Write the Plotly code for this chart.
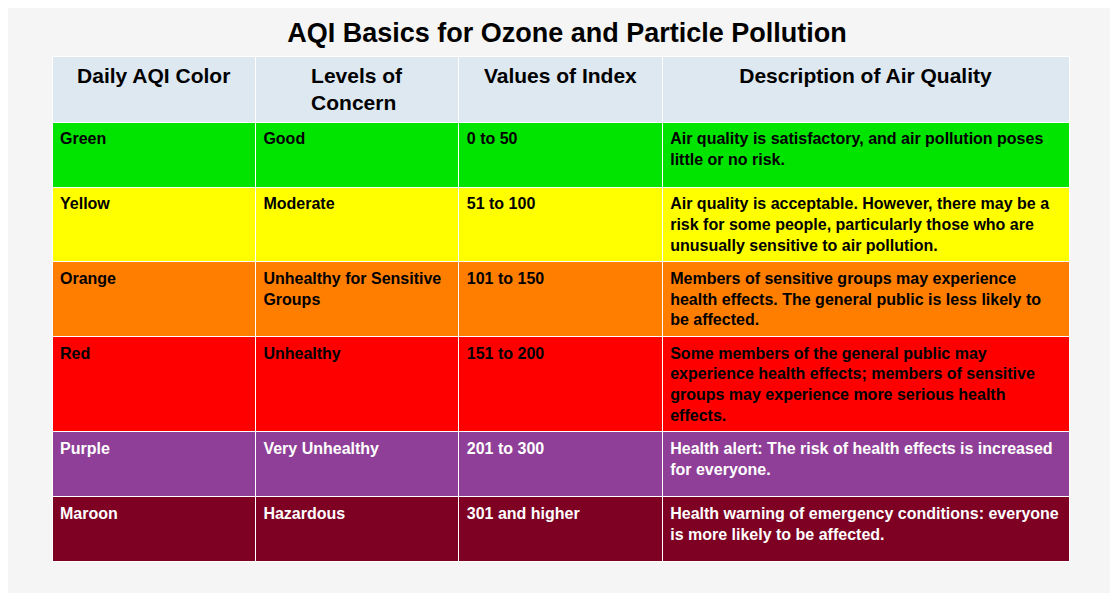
import plotly.graph_objects as go

headers = ["Daily AQI Color", "Levels of Concern", "Values of Index", "Description of Air Quality"]
colors = ["Green", "Yellow", "Orange", "Red", "Purple", "Maroon"]
levels = ["Good", "Moderate", "Unhealthy for Sensitive<br>Groups", "Unhealthy", "Very Unhealthy", "Hazardous"]
values = ["0 to 50", "51 to 100", "101 to 150", "151 to 200", "201 to 300", "301 and higher"]
descs = [
    "Air quality is satisfactory, and air pollution poses<br>little or no risk.",
    "Air quality is acceptable. However, there may be a<br>risk for some people, particularly those who are<br>unusually sensitive to air pollution.",
    "Members of sensitive groups may experience<br>health effects. The general public is less likely to<br>be affected.",
    "Some members of the general public may<br>experience health effects; members of sensitive<br>groups may experience more serious health<br>effects.",
    "Health alert: The risk of health effects is increased<br>for everyone.",
    "Health warning of emergency conditions: everyone<br>is more likely to be affected.",
]
fills = ["#00e400", "#ffff00", "#ff7e00", "#ff0000", "#8f3f97", "#7e0023"]
txtcol = ["black", "black", "black", "black", "white", "white"]

fig = go.Figure(go.Table(
    columnwidth=[1, 1, 1, 2],
    header=dict(values=["<b>%s</b>" % h for h in headers], fill_color="#dde8f0",
                line_color="white", align="center", height=38,
                font=dict(family="Liberation Sans, Arial", size=21, color="black")),
    cells=dict(values=[["<b>%s</b>" % v for v in col] for col in [colors, levels, values, descs]],
               fill_color=[fills] * 4, line_color="white", align="left", height=65,
               font=dict(family="Liberation Sans, Arial", size=16, color=[txtcol] * 4)),
))
fig.update_layout(
    width=1118, height=593, paper_bgcolor="#f5f5f5",
    margin=dict(l=44, r=57, t=48, b=10),
    title=dict(text="<b>AQI Basics for Ozone and Particle Pollution</b>", x=0.5, xanchor="center",
               y=0.975, yanchor="top",
               font=dict(family="Liberation Sans, Arial", size=27, color="black")),
)
fig.write_html("out.html")
